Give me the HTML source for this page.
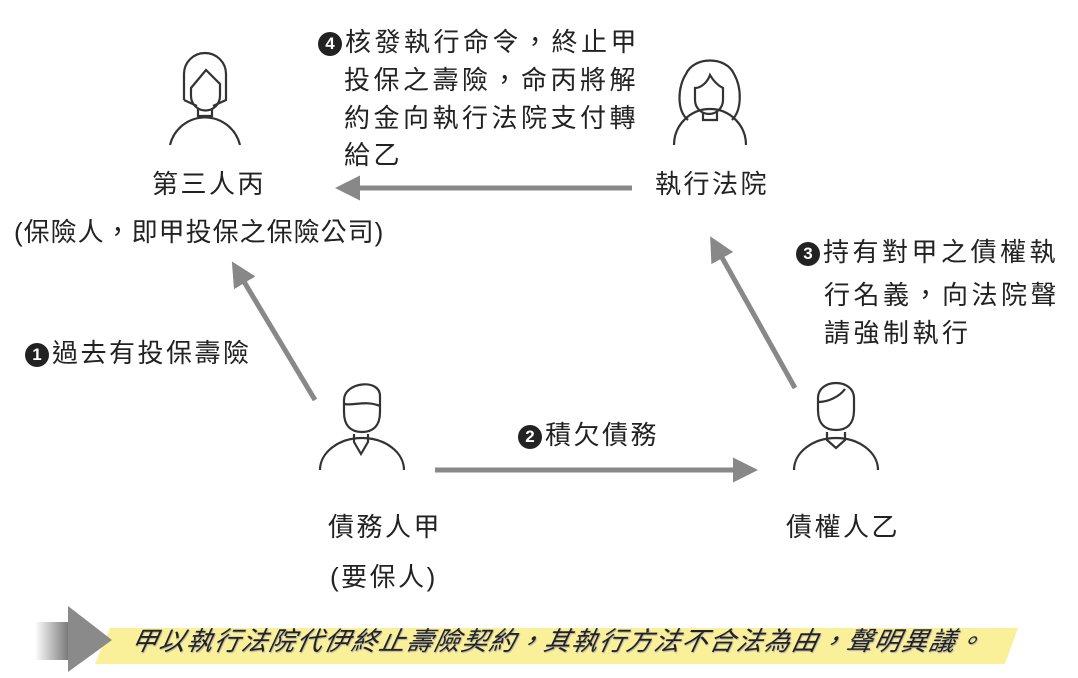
<!DOCTYPE html>
<html><head><meta charset="utf-8"><style>
body{margin:0;width:1078px;height:678px;background:#fff;overflow:hidden;position:relative;font-family:"Liberation Sans","Noto Sans CJK TC",sans-serif;color:#222}
.t{position:absolute;font-size:26px;letter-spacing:2.5px;white-space:nowrap;line-height:1}
.n{display:inline-block;width:24px;height:24px;border-radius:50%;background:#222;color:#fff;font-size:17px;text-align:center;line-height:24px;font-weight:bold;vertical-align:2px;margin-right:3px;letter-spacing:0}
</style></head><body>
<svg width="1078" height="678" style="position:absolute;left:0;top:0">
<defs>
<marker id="a" markerWidth="6" markerHeight="6" refX="3" refY="3" orient="auto" markerUnits="strokeWidth"><path d="M0,0.5 L5,3 L0,5.5z" fill="#888"/></marker>
<linearGradient id="g" x1="0" x2="1"><stop offset="0" stop-color="#fff"/><stop offset="1" stop-color="#777"/></linearGradient>
</defs>
<g stroke="#888" stroke-width="5" fill="none" marker-end="url(#a)">
<line x1="632" y1="188" x2="345" y2="188"/>
<line x1="315" y1="400" x2="237" y2="270"/>
<line x1="435" y1="470" x2="748" y2="470"/>
<line x1="795" y1="388" x2="715" y2="245"/>
</g>
<g stroke="#333" stroke-width="2.2" fill="none">
<path d="M184,100 V74 a21,21 0 0 1 42,0 V100 L213,106 M197,106 L184,100"/>
<path d="M191,88 L206,70 L220,84 V96 a14,14 0 0 1 -29,0z"/>
<path d="M198,108 v8 h14 v-8"/>
<path d="M170,145 a36,36 0 0 1 70,0"/>
<path d="M688,120 c-12,-10 -10,-34 -2,-46 c8,-18 40,-18 48,0 c8,14 8,36 -2,46"/>
<path d="M695,88 c7,0 13,-7 15,-13 c4,7 9,11 13,13 v12 a14,14 0 0 1 -28,0z"/>
<path d="M703,112 v8 h14 v-8"/>
<path d="M674,145 a36,36 0 0 1 72,0"/>
<path d="M344,412 v-12 c0,-18 36,-22 36,-4 v16 c0,14 -7,20 -18,20 c-11,0 -18,-6 -18,-20z"/>
<path d="M344,404 c9,2 22,-4 36,2"/>
<path d="M354,434 v8 l7,12 l7,-12 v-8"/>
<path d="M320,470 a42,32 0 0 1 84,0"/>
<path d="M818,410 v-12 c0,-20 36,-20 36,0 v12 c0,14 -7,20 -18,20 c-11,0 -18,-6 -18,-20z"/>
<path d="M818,402 c11,0 22,-6 27,-13"/>
<path d="M827,432 v8 l9,8 l9,-8 v-8"/>
<path d="M794,470 a42,32 0 0 1 84,0"/>
</g>
<polygon points="110,628 1018,628 1005,664 95,664" fill="#fbf09a"/>
<rect x="35" y="622" width="34" height="38" fill="url(#g)"/>
<polygon points="68,606 112,640 68,672" fill="#8a8a8a"/>
</svg>
<div class="t" style="left:152px;top:171px">第三人丙</div>
<div class="t" style="left:14px;top:219px;letter-spacing:1px">(保險人，即甲投保之保險公司)</div>
<div class="t" style="left:655px;top:171px">執行法院</div>
<div class="t" style="left:318px;top:29px;letter-spacing:3.5px"><span class="n">4</span>核發執行命令，終止甲</div>
<div class="t" style="left:344px;top:67px;letter-spacing:3.5px">投保之壽險，命丙將解</div>
<div class="t" style="left:344px;top:105px;letter-spacing:3.5px">約金向執行法院支付轉</div>
<div class="t" style="left:344px;top:142px;letter-spacing:3.5px">給乙</div>
<div class="t" style="left:25px;top:340px"><span class="n">1</span>過去有投保壽險</div>
<div class="t" style="left:518px;top:422px"><span class="n">2</span>積欠債務</div>
<div class="t" style="left:796px;top:239px;letter-spacing:3.5px"><span class="n">3</span>持有對甲之債權執</div>
<div class="t" style="left:824px;top:282px;letter-spacing:3.5px">行名義，向法院聲</div>
<div class="t" style="left:824px;top:320px;letter-spacing:3.5px">請強制執行</div>
<div class="t" style="left:328px;top:514px">債務人甲</div>
<div class="t" style="left:330px;top:564px">(要保人)</div>
<div class="t" style="left:786px;top:514px">債權人乙</div>
<div class="t" style="left:132px;top:628px;font-style:italic;font-size:26px;letter-spacing:1.5px;transform:skewX(-12deg);text-shadow:1px 1px 1px #aaa">甲以執行法院代伊終止壽險契約，其執行方法不合法為由，聲明異議。</div>
</body></html>
